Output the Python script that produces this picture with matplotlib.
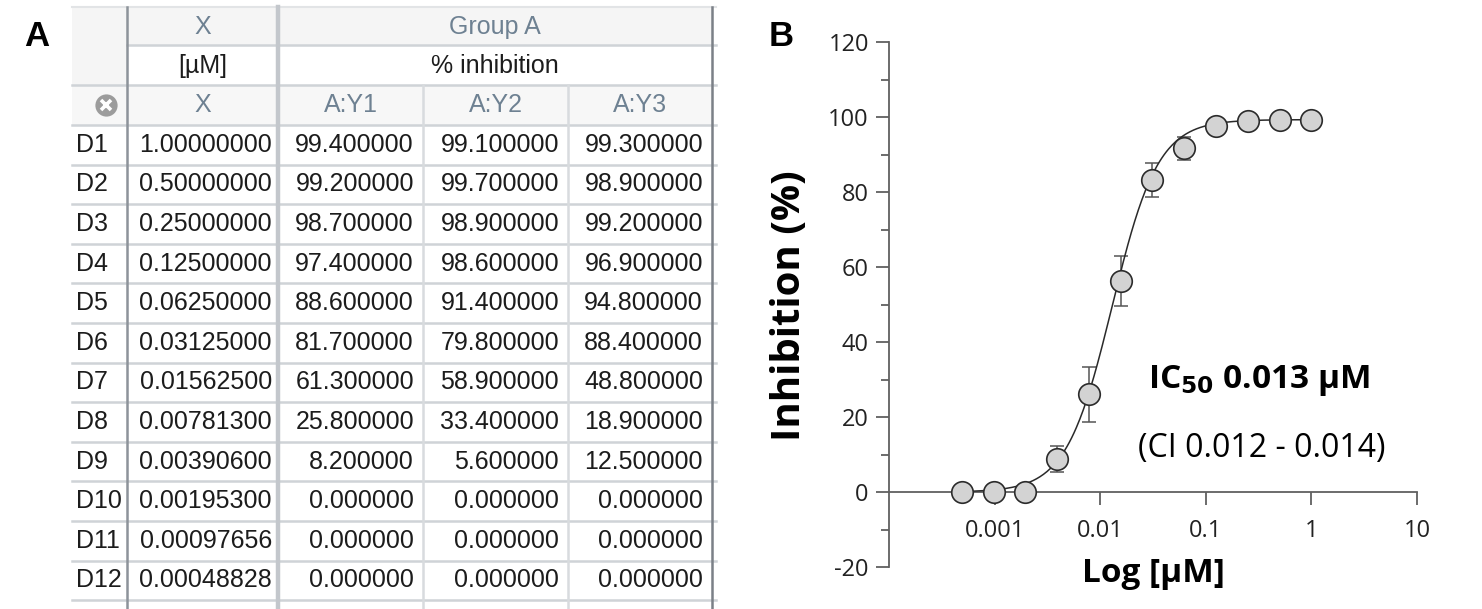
import numpy as np
import matplotlib.pyplot as plt
from matplotlib.ticker import FixedLocator, NullLocator, MultipleLocator
from matplotlib.patches import Rectangle

plt.rcParams['axes.unicode_minus'] = False

# ---- data (panel A table, panel B plot) ----
row_names = ['D1', 'D2', 'D3', 'D4', 'D5', 'D6', 'D7', 'D8', 'D9', 'D10', 'D11', 'D12']
conc = [1.0, 0.5, 0.25, 0.125, 0.0625, 0.03125, 0.015625, 0.007813,
        0.003906, 0.001953, 0.00097656, 0.00048828]
rep_y1 = [99.4, 99.2, 98.7, 97.4, 88.6, 81.7, 61.3, 25.8, 8.2, 0.0, 0.0, 0.0]
rep_y2 = [99.1, 99.7, 98.9, 98.6, 91.4, 79.8, 58.9, 33.4, 5.6, 0.0, 0.0, 0.0]
rep_y3 = [99.3, 98.9, 99.2, 96.9, 94.8, 88.4, 48.8, 18.9, 12.5, 0.0, 0.0, 0.0]
rep_names = ['A:Y1', 'A:Y2', 'A:Y3']

# 4PL fit reported for the curve
fit_bottom = 0.0
fit_top = 99.3
fit_ic50 = 0.013
fit_hill = 2.0

x_ticks = [0.001, 0.01, 0.1, 1, 10]
x_ticklabels = ['0.001', '0.01', '0.1', '1', '10']
y_ticks = [-20, 0, 20, 40, 60, 80, 100, 120]

W, H = 1482, 609
fig = plt.figure(figsize=(W / 100, H / 100), dpi=100)

# ---------------- panel A: spreadsheet ----------------
tab = fig.add_axes([0, 0, 1, 1])
tab.set_xlim(0, W)
tab.set_ylim(H, 0)
tab.axis('off')

tfont = dict(family='Liberation Sans', fontsize=18)
hdr_col = '#6e8192'
txt_col = '#1c1c1c'
grid_col = '#cfd3d7'

x_left, x_c1, x_c2, x_c3, x_c4, x_right = 72, 127, 278, 423, 568, 712
y_top, y_h1, y_h2, y_h3 = 7, 45, 85, 125
row_h = 39.6

# header backgrounds
tab.add_patch(Rectangle((x_left, y_top), x_right - x_left, y_h1 - y_top, color='#f5f5f5', lw=0))
tab.add_patch(Rectangle((x_left, y_h1), x_c1 - x_left, y_h3 - y_h1, color='#f5f5f5', lw=0))
tab.add_patch(Rectangle((x_left, y_h2), x_right - x_left, y_h3 - y_h2, color='#f7f7f7', lw=0))

# horizontal lines
tab.plot([x_left, x_right + 4], [y_top, y_top], color='#e2e4e6', lw=1.5)
tab.plot([x_c1, x_right + 4], [y_h1, y_h1], color=grid_col, lw=1.8)
for i in range(len(row_names) + 2):
    yy = y_h2 + (y_h3 - y_h2) * min(i, 1) + row_h * max(i - 1, 0)
    tab.plot([x_left, x_right + 4], [yy, yy], color=grid_col, lw=1.8)

# vertical lines
tab.plot([x_c3, x_c3], [y_h2, H], color='#d8dbde', lw=1.8)
tab.plot([x_c4, x_c4], [y_h2, H], color='#d8dbde', lw=1.8)
tab.plot([x_c2, x_c2], [y_top, H], color='#c3c7cc', lw=3.2)
tab.plot([x_c1, x_c1], [y_top, H], color='#8d939a', lw=1.8)
tab.plot([x_right, x_right], [y_top, H], color='#7b8087', lw=1.8)

# header text
tab.text((x_c1 + x_c2) / 2, (y_top + y_h1) / 2 + 1, 'X', color=hdr_col, ha='center', va='center', **tfont)
tab.text((x_c2 + x_right) / 2, (y_top + y_h1) / 2 + 1, 'Group A', color=hdr_col, ha='center', va='center', **tfont)
tab.text((x_c1 + x_c2) / 2, (y_h1 + y_h2) / 2 + 1, '[µM]', color=txt_col, ha='center', va='center', **tfont)
tab.text((x_c2 + x_right) / 2, (y_h1 + y_h2) / 2 + 1, '% inhibition', color=txt_col, ha='center', va='center', **tfont)
yc3 = (y_h2 + y_h3) / 2
tab.text((x_c1 + x_c2) / 2, yc3, 'X', color=hdr_col, ha='center', va='center', **tfont)
col_edges = [x_c2, x_c3, x_c4, x_right]
for j, name in enumerate(rep_names):
    tab.text((col_edges[j] + col_edges[j + 1]) / 2, yc3, name, color=hdr_col,
             ha='center', va='center', **tfont)

# clear-icon
tab.plot([106], [yc3], 'o', ms=16, color='#9c9c9c', mec='none')
tab.plot([106], [yc3], 'x', ms=7, mew=2.6, color='white')

# data rows
reps = [rep_y1, rep_y2, rep_y3]
for i, name in enumerate(row_names):
    yc = y_h3 + row_h * (i + 0.5)
    tab.text(x_left + 4, yc, name, color=txt_col, ha='left', va='center', **tfont)
    tab.text(x_c2 - 6, yc, f'{conc[i]:.8f}', color=txt_col, ha='right', va='center', **tfont)
    for j in range(3):
        tab.text(col_edges[j + 1] - 9, yc, f'{reps[j][i]:.6f}', color=txt_col,
                 ha='right', va='center', **tfont)

# panel letters
tab.text(37, 37, 'A', family='Liberation Sans', fontsize=25, fontweight='bold',
         ha='center', va='center')
tab.text(781, 37, 'B', family='Liberation Sans', fontsize=25, fontweight='bold',
         ha='center', va='center')

# ---------------- panel B: dose-response ----------------
ax = fig.add_axes([889 / W, (H - 567) / H, (1417 - 889) / W, 525 / H])
ax.set_xscale('log')
ax.set_xlim(1e-4, 10)
ax.set_ylim(-20, 120)

rep_arr = np.array(reps)
mean = rep_arr.mean(axis=0)
sd = rep_arr.std(axis=0, ddof=1)

xc = np.logspace(np.log10(min(conc)), np.log10(max(conc)), 300)
yc_fit = fit_bottom + (fit_top - fit_bottom) / (1 + (fit_ic50 / xc) ** fit_hill)
ax.plot(xc, yc_fit, color='#2a2a2a', lw=1.1, zorder=3)

ax.errorbar(conc, mean, yerr=sd, fmt='none', ecolor='#555555', elinewidth=1.1,
            capsize=5, capthick=1.1, zorder=2)
ax.plot(conc, mean, 'o', ms=15.5, mfc='#d3d3d3', mec='#2b2b2b', mew=1.2,
        zorder=4, clip_on=False)

for s in ['top', 'right']:
    ax.spines[s].set_visible(False)
ax.spines['bottom'].set_position(('data', 0))
for s in ['left', 'bottom']:
    ax.spines[s].set_color('#606060')
    ax.spines[s].set_linewidth(1.3)

ax.xaxis.set_major_locator(FixedLocator(x_ticks))
ax.xaxis.set_minor_locator(NullLocator())
ax.set_xticklabels(x_ticklabels)
ax.yaxis.set_major_locator(FixedLocator(y_ticks))
ax.yaxis.set_minor_locator(MultipleLocator(10))

ax.tick_params(axis='x', which='major', direction='out', length=9.5, width=1.3,
               color='#606060', pad=10, labelsize=17, labelcolor='#222222')
ax.tick_params(axis='y', which='major', direction='out', length=9.5, width=1.3,
               color='#606060', pad=5, labelsize=17, labelcolor='#222222')
ax.tick_params(axis='y', which='minor', direction='out', length=6, width=1.3,
               color='#606060')
for lab in ax.get_xticklabels() + ax.get_yticklabels():
    lab.set_family('Open Sans')

ax.text(-0.189, 0.497, 'Inhibition (%)', transform=ax.transAxes, rotation=90,
        ha='center', va='center', family='Open Sans', fontsize=29, fontweight='bold')
ax.text(0.5, -0.012, 'Log [µM]', transform=ax.transAxes, ha='center', va='center',
        family='Open Sans', fontsize=24, fontweight='bold')
ax.text(0.70, 0.356, r'IC$_{\mathbf{50}}$ 0.013 µM', transform=ax.transAxes,
        ha='center', va='center', family='Open Sans', fontsize=24, fontweight='bold')
ax.text(0.706, 0.226, '(CI 0.012 - 0.014)', transform=ax.transAxes,
        ha='center', va='center', family='Open Sans', fontsize=23)

fig.savefig('out.png', dpi=100)
